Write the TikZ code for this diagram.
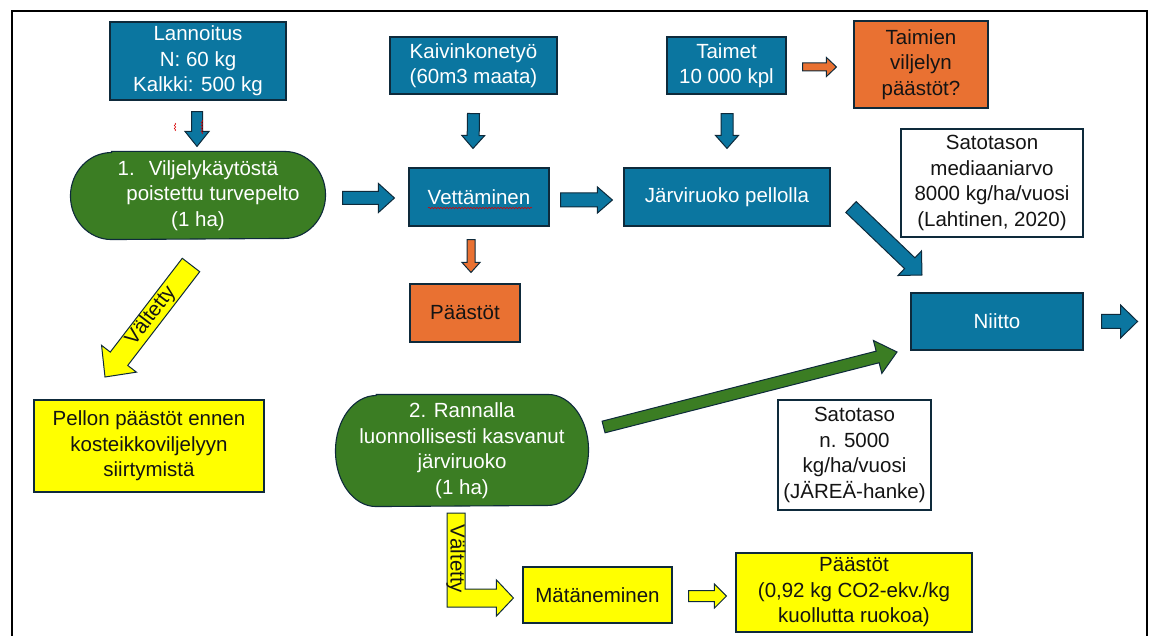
\documentclass[tikz,border=0pt]{standalone}
\usepackage{fontspec}
\setmainfont{Liberation Sans}
\usetikzlibrary{calc,backgrounds,decorations.pathmorphing}

\definecolor{boxblue}{HTML}{0B76A0}
\definecolor{boxgreen}{HTML}{3B7D23}
\definecolor{boxorange}{HTML}{E97132}
\definecolor{boxyellow}{HTML}{FFFF00}
\definecolor{edge}{HTML}{0E2A3B}
\definecolor{ink}{HTML}{141414}

% block arrow: #1 tail, #2 tip, #3 shaft half width, #4 head half width,
% #5 head length, #6 style
\newcommand\blockarrow[6]{%
  \coordinate (ba-h) at ($(#2)!#5!(#1)$);
  \path[#6] ($(#1)!#3!90:(#2)$) -- ($(ba-h)!#3!-90:(#1)$)
    -- ($(ba-h)!#4!-90:(#1)$) -- (#2) -- ($(ba-h)!#4!90:(#1)$)
    -- ($(ba-h)!#3!90:(#1)$) -- ($(#1)!#3!-90:(#2)$) -- cycle;}

% terminator outline round a node: #1 node, #2 end x radius, #3 end y radius
\newcommand\terminator[3]{%
  \path[ovalshape] ($(#1.north west)+(#2,0)$) -- ($(#1.north east)+(-#2,0)$)
    arc[start angle=90,end angle=-90,x radius=#2pt,y radius=#3pt]
    -- ($(#1.south west)+(#2,0)$)
    arc[start angle=270,end angle=90,x radius=#2pt,y radius=#3pt] -- cycle;}

\tikzset{
  box/.style={rectangle, inner sep=0pt, align=center, line width=1.1pt,
    draw=edge, font=\fontsize{20.5}{25.5}\selectfont},
  wh/.style 2 args={minimum width=#1pt, minimum height=#2pt},
  bluebox/.style={box, fill=boxblue, text=white},
  orangebox/.style={box, fill=boxorange, text=ink},
  yellowbox/.style={box, fill=boxyellow, text=ink},
  whitebox/.style={box, fill=white, text=ink},
  ovalnode/.style={box, draw=none, text=white},
  ovalshape/.style={fill=boxgreen, draw=edge, line width=1.1pt},
  arrowbase/.style={draw=edge, line width=1pt, line join=miter},
  bluearrow/.style={arrowbase, fill=boxblue},
  orangearrow/.style={arrowbase, fill=boxorange},
  greenarrow/.style={arrowbase, fill=boxgreen},
  yellowarrow/.style={arrowbase, fill=boxyellow},
  arrowlabel/.style={inner sep=0pt, text=ink, font=\fontsize{20.5}{24}\selectfont},
  squiggle/.style={red!85!black, line width=0.5pt, decorate,
    decoration={snake, amplitude=0.8pt, segment length=3pt}}
}

\begin{document}
\begin{tikzpicture}[x=1pt,y=-1pt]
\useasboundingbox (0,0) rectangle (1149,636);
\clip (0,0) rectangle (1149,636);

% frame of the slide
\draw[line width=1.5pt, draw=black] (12,11) rectangle (1147,660);

% inputs
\node[bluebox, wh={176}{78}] (lann) at (198,61) {Lannoitus\\N: 60 kg\\Kalkki: 500 kg};
\node[bluebox, wh={167}{57}] (kaiv) at (473.5,65.5) {Kaivinkonetyö\\(60m3 maata)};
\node[bluebox, wh={119}{57}] (taim) at (726.5,65.5) {Taimet\\10 000 kpl};
\node[orangebox, wh={134}{87}] (taimpa) at (921,64.5) {Taimien\\viljelyn\\päästöt?};

% main chain
\node[ovalnode, wh={254}{87}] (ov1) at (198,195.5)
  {1.\hspace{14pt}Viljelykäytöstä\\\hspace*{30pt}poistettu turvepelto\\(1 ha)};
\node[bluebox, wh={140}{58}] (vett) at (479,197) {Vettäminen};
\node[bluebox, wh={206}{58}] (jarv) at (727,197) {Järviruoko pellolla};
\node[whitebox, wh={182}{108}] (sato1) at (992,183)
  {Satotason\\mediaaniarvo\\8000 kg/ha/vuosi\\(Lahtinen, 2020)};
\node[orangebox, wh={110}{58}] (paast) at (465,313) {Päästöt};
\node[bluebox, wh={172}{57}] (niitto) at (997,321.5) {Niitto};

% lower part
\node[yellowbox, wh={230}{92}] (pellon) at (149,446)
  {Pellon päästöt ennen\\kosteikkoviljelyyn\\siirtymistä};
\node[ovalnode, wh={252}{111}] (ov2) at (462,450.5)
  {2. Rannalla\\luonnollisesti kasvanut\\järviruoko\\(1 ha)};
\node[whitebox, wh={153}{110}] (sato2) at (854.5,455)
  {Satotaso\\n. 5000\\kg/ha/vuosi\\(JÄREÄ-hanke)};
\node[yellowbox, wh={149}{56}] (mata) at (597.5,595) {Mätäneminen};
\node[yellowbox, wh={236}{79}] (paast2) at (854,592.5)
  {Päästöt\\(0,92 kg CO2-ekv./kg\\kuollutta ruokoa)};

\begin{scope}[on background layer]
  \terminator{ov1}{41}{43.5}
  \terminator{ov2}{40.6}{55.5}
\end{scope}

% arrow end points
\coordinate (a1s) at ($(lann.south)+(-1,11)$);   \coordinate (a1e) at ($(ov1.north)+(-1,-5)$);
\coordinate (a2s) at ($(kaiv.south)+(0,19)$);    \coordinate (a2e) at ($(vett.north)+(-6,-19)$);
\coordinate (a3s) at ($(taim.south)+(0.5,19)$);  \coordinate (a3e) at ($(jarv.north)+(0,-19)$);
\coordinate (a4s) at ($(ov1.east)+(17,2.5)$);    \coordinate (a4e) at ($(vett.west)+(-14,1)$);
\coordinate (a5s) at ($(vett.east)+(11,3)$);     \coordinate (a5e) at ($(jarv.west)+(-11,3)$);
\coordinate (a6s) at (851,207);                  \coordinate (a6e) at (922,275);
\coordinate (a7s) at ($(ov2.east)+(15,-23.5)$);  \coordinate (a7e) at (897,352);
\coordinate (a8s) at ($(niitto.east)+(18,0)$);   \coordinate (a8e) at ($(niitto.east)+(54,0)$);
\coordinate (a9s) at ($(taim.east)+(16,1.5)$);   \coordinate (a9e) at ($(taimpa.west)+(-17,2.5)$);
\coordinate (a10s) at ($(vett.south)+(-8,13)$);  \coordinate (a10e) at ($(paast.north)+(6,-11)$);
\coordinate (a11s) at (191,265);                 \coordinate (a11e) at (105,377);
\coordinate (a12s) at ($(mata.east)+(16,1)$);    \coordinate (a12e) at ($(paast2.west)+(-9,3.5)$);

\blockarrow{a1s}{a1e}{5.5pt}{12pt}{15pt}{bluearrow}
\blockarrow{a2s}{a2e}{6pt}{11.5pt}{13pt}{bluearrow}
\blockarrow{a3s}{a3e}{6pt}{11.5pt}{13pt}{bluearrow}
\blockarrow{a4s}{a4e}{6.5pt}{14.5pt}{16pt}{bluearrow}
\blockarrow{a5s}{a5e}{7pt}{13pt}{15pt}{bluearrow}
\blockarrow{a6s}{a6e}{7.5pt}{17pt}{17pt}{bluearrow}
\blockarrow{a7s}{a7e}{6pt}{17pt}{20pt}{greenarrow}
\blockarrow{a8s}{a8e}{7pt}{16.5pt}{17pt}{bluearrow}
\blockarrow{a9s}{a9e}{4pt}{9.5pt}{10pt}{orangearrow}
\blockarrow{a10s}{a10e}{4pt}{9pt}{10pt}{orangearrow}
\blockarrow{a11s}{a11e}{11pt}{22pt}{23pt}{yellowarrow}
\blockarrow{a12s}{a12e}{5.5pt}{12pt}{12pt}{yellowarrow}

% bent arrow from the shore reed to decay
\coordinate (lb) at ($(mata.west)+(-9,3)$);
\path[yellowarrow] (447,513) -- (465,513) -- (465,589) -- ($(lb)+(-17,-9)$)
  -- ($(lb)+(-17,-18)$) -- (lb) -- ($(lb)+(-17,18)$) -- ($(lb)+(-17,9)$)
  -- (447,607) -- cycle;

% labels on the yellow arrows
\node[arrowlabel, rotate=52.5] (lab1) at (151,316) {Vältetty};
\node[arrowlabel, rotate=-90] (lab2) at (456,559) {Vältetty};

% spell-check marks
\draw[squiggle] (428,208) -- (532,208);
\draw[squiggle] (175,123) -- (175,131);
\draw[squiggle] (202,120) -- (202,134);
\end{tikzpicture}
\end{document}
